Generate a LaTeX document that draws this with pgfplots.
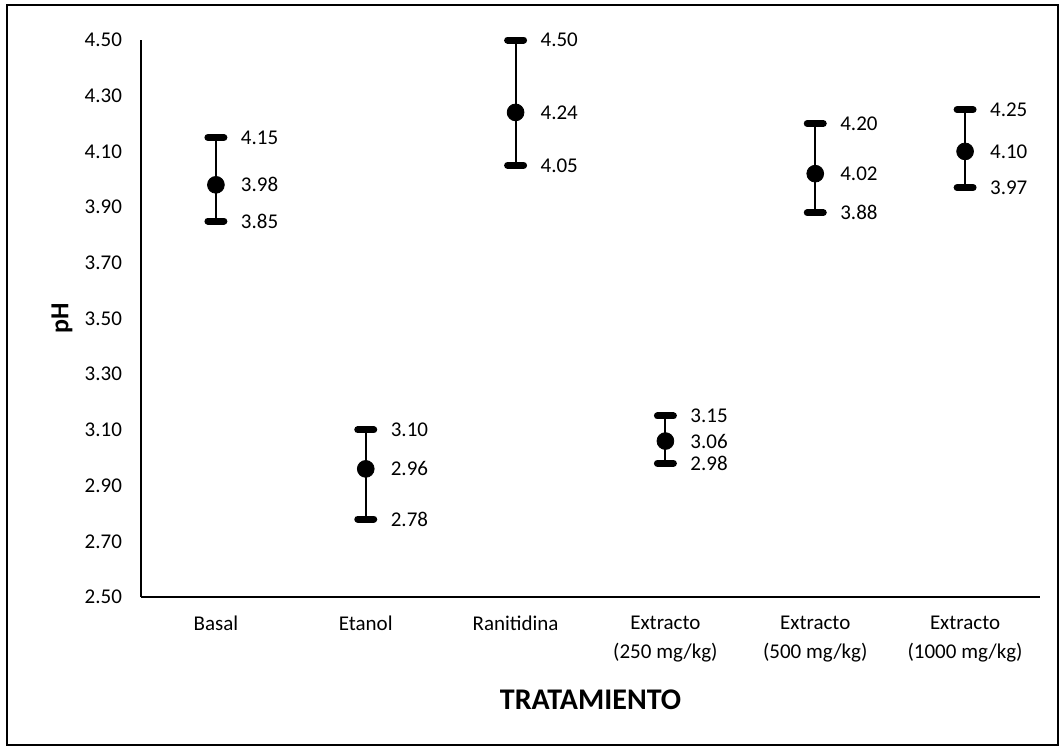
\documentclass[border=0pt]{standalone}
\usepackage{pgfplots}
\pgfplotsset{compat=1.18}
\usepackage{pgfplotstable}
\usepackage{fontspec}
\setmainfont{Carlito}
\pgfplotstableread{
x mean hi lo ep em
0 3.98 4.15 3.85 0.17 0.13
1 2.96 3.10 2.78 0.14 0.18
2 4.24 4.50 4.05 0.26 0.19
3 3.06 3.15 2.98 0.09 0.08
4 4.02 4.20 3.88 0.18 0.14
5 4.10 4.25 3.97 0.15 0.13
}\data
\begin{document}
\begin{tikzpicture}
\useasboundingbox (-70.5pt,-76.5pt) rectangle (461.5pt,298.5pt);
\begin{axis}[
  at={(0,0)}, anchor=south west,
  scale only axis, width=449.5pt, height=278.5pt,
  xmin=-0.5, xmax=5.5, ymin=2.5, ymax=4.5,
  clip=false,
  axis x line*=bottom, axis y line*=left,
  axis line style={line width=0.8pt,-},
  tick style={draw=none},
  /pgf/number format/assume math mode=true,
  ytick={2.5,2.7,2.9,3.1,3.3,3.5,3.7,3.9,4.1,4.3,4.5},
  yticklabels={2.50,2.70,2.90,3.10,3.30,3.50,3.70,3.90,4.10,4.30,4.50},
  yticklabel style={font=\fontsize{10.5}{12.6}\selectfont, xshift=-6pt},
  xtick={0,1,2,3,4,5},
  xticklabels={Basal,Etanol,Ranitidina,Extracto\\(250 mg/kg),Extracto\\(500 mg/kg),Extracto\\(1000 mg/kg)},
  xticklabel style={font=\fontsize{10.5}{14.5}\selectfont, align=center, yshift=-6pt},
  xlabel={TRATAMIENTO},
  xlabel style={font=\fontsize{15}{18}\selectfont\bfseries, at={(axis description cs:0.5,-0.185)}, anchor=center},
  ylabel={pH},
  ylabel style={font=\fontsize{13}{15}\selectfont\bfseries, at={(axis description cs:-0.088,0.5)}, anchor=center},
  nodes near coords style={font=\fontsize{10.5}{12.6}\selectfont, anchor=west, xshift=9pt, black},
]
\addplot[only marks, mark=*, mark size=4.2pt, black,
  error bars/.cd, y dir=both, y explicit,
  error bar style={line width=1pt, black},
  error mark=|,
  error mark options={line width=3.5pt, mark size=4pt, black, line cap=round}]
  table[x=x, y=mean, y error plus=ep, y error minus=em] {\data};
\addplot[draw=none, mark=none, nodes near coords, point meta=explicit symbolic]
  table[x=x, y=mean, meta=mean] {\data};
\addplot[draw=none, mark=none, nodes near coords, point meta=explicit symbolic]
  table[x=x, y=hi, meta=hi] {\data};
\addplot[draw=none, mark=none, nodes near coords, point meta=explicit symbolic]
  table[x=x, y=lo, meta=lo] {\data};
\end{axis}
\draw[line width=1.2pt] (-67pt,-74pt) rectangle (458.5pt,296pt);
\end{tikzpicture}
\end{document}
